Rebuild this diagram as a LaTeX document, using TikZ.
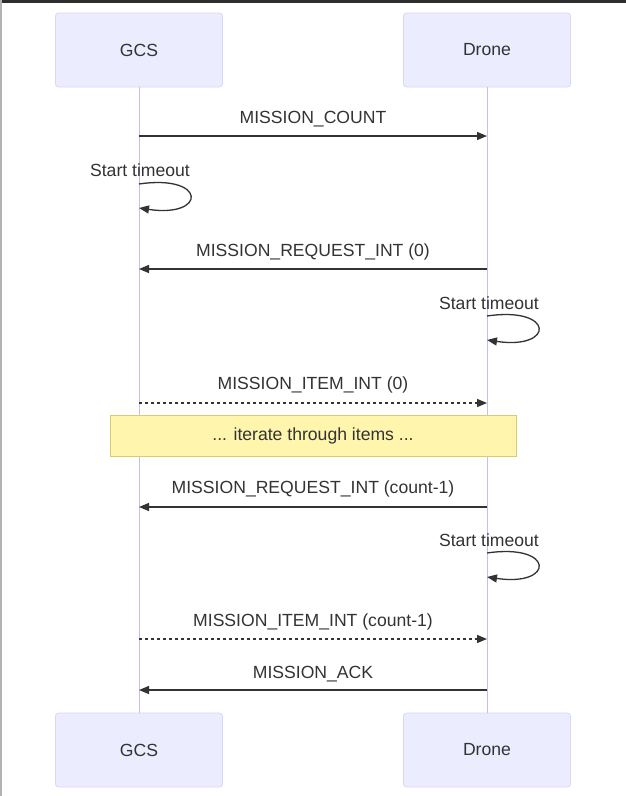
\documentclass[tikz,border=0pt]{standalone}
\usepackage{fontspec}
\setmainfont{Liberation Sans}
\usetikzlibrary{arrows.meta}

\definecolor{actorfill}{HTML}{ECECFF}
\definecolor{actorline}{HTML}{DCD6F6}
\definecolor{lifeline}{HTML}{C4BEF4}
\definecolor{msgcolor}{HTML}{333333}
\definecolor{notefill}{HTML}{FFF5AD}
\definecolor{noteline}{HTML}{D4CD6C}

\tikzset{
	actor/.style={draw=actorline, fill=actorfill, rounded corners=3pt, line width=0.8pt,
		minimum width=167pt, minimum height=74pt, inner sep=0pt,
		font=\fontsize{17.6}{21}\selectfont, text=msgcolor},
	msg/.style={draw=msgcolor, line width=1.3pt, -{Triangle[length=10pt,width=8pt]}},
	reply/.style={msg, dash pattern=on 3pt off 3pt},
	msglabel/.style={inner sep=0pt, font=\fontsize{17.6}{21}\selectfont, text=msgcolor},
	notebox/.style={draw=noteline, fill=notefill, line width=0.8pt,
		minimum width=406pt, minimum height=41pt, inner sep=0pt,
		font=\fontsize{17.6}{21}\selectfont, text=msgcolor}
}

\begin{document}
\begin{tikzpicture}[x=1pt,y=1pt,yscale=-1,xscale=1]
	\useasboundingbox (0,0) rectangle (626,796);
	\fill[white] (0,0) rectangle (626,796);
	% screen frame
	\fill[black!82] (0,0) rectangle (626,3);
	\fill[gray!60] (0,0) rectangle (2,796);
	
	% Actors
	\node[actor] (gcsTop) at (139,50) {GCS};
	\node[actor] (droneTop) at (487,50) {Drone};
	\node[actor] (gcsBot) at (139,750) {GCS};
	\node[actor] (droneBot) at (487,750) {Drone};
	
	% Lifelines
	\draw[lifeline, line width=1pt] (gcsTop.south) -- (gcsBot.north);
	\draw[lifeline, line width=1pt] (droneTop.south) -- (droneBot.north);
	
	% Points on the lifelines
	\coordinate (gCount) at (139,136);
	\coordinate (dCount) at (487,136);
	\coordinate (gLoopA) at (139,184);
	\coordinate (gLoopB) at (139,208);
	\coordinate (gReq) at (139,269);
	\coordinate (dReq) at (487,269);
	\coordinate (dLoopA) at (487,316);
	\coordinate (dLoopB) at (487,340);
	\coordinate (gItem) at (139,403);
	\coordinate (dItem) at (487,403);
	\coordinate (gReqLast) at (139,507);
	\coordinate (dReqLast) at (487,507);
	\coordinate (dLoopC) at (487,553);
	\coordinate (dLoopD) at (487,577);
	\coordinate (gItemLast) at (139,639);
	\coordinate (dItemLast) at (487,639);
	\coordinate (gAck) at (139,690);
	\coordinate (dAck) at (487,690);
	
	%Messages
	\draw[msg] (gCount) -- (dCount);
	\draw[msg] (gLoopA) .. controls +(68,-10) and +(68,10) .. (gLoopB);
	\draw[msg] (dReq) -- (gReq);
	\draw[msg] (dLoopA) .. controls +(68,-10) and +(68,10) .. (dLoopB);
	\draw[reply] (gItem) -- (dItem);
	\draw[msg] (dReqLast) -- (gReqLast);
	\draw[msg] (dLoopC) .. controls +(68,-10) and +(68,10) .. (dLoopD);
	\draw[reply] (gItemLast) -- (dItemLast);
	\draw[msg] (dAck) -- (gAck);
	
	% Note
	\node[notebox] (iterNote) at (313,435.5) {... iterate through items ...};
	
	% Text Node
	\node[msglabel] (lblCount) at (313,119) {MISSION\_COUNT};
	\node[msglabel] (lblTimeoutA) at (140,170) {Start timeout};
	\node[msglabel] (lblReq) at (313,252) {MISSION\_REQUEST\_INT (0)};
	\node[msglabel] (lblTimeoutB) at (489,303) {Start timeout};
	\node[msglabel] (lblItem) at (313,385) {MISSION\_ITEM\_INT (0)};
	\node[msglabel] (lblReqLast) at (313,489) {MISSION\_REQUEST\_INT (count-1)};
	\node[msglabel] (lblTimeoutC) at (489,540) {Start timeout};
	\node[msglabel] (lblItemLast) at (313,622) {MISSION\_ITEM\_INT (count-1)};
	\node[msglabel] (lblAck) at (313,674) {MISSION\_ACK};
\end{tikzpicture}
\end{document}
